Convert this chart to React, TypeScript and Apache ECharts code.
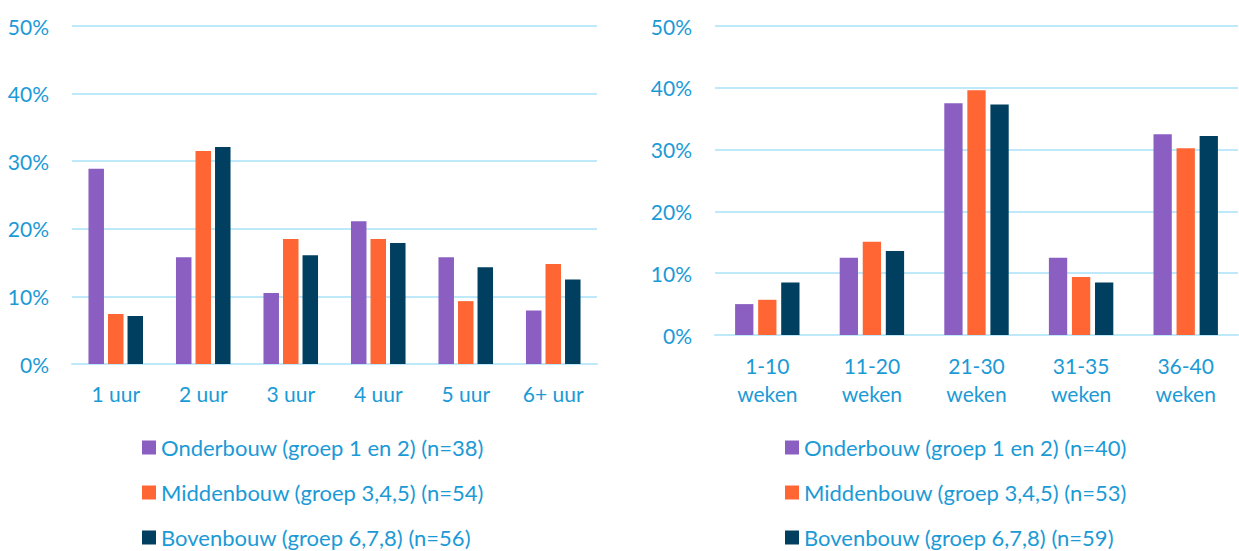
import React, { useEffect, useRef } from "react";
import * as echarts from "echarts";

const hoursCategories = ["1 uur", "2 uur", "3 uur", "4 uur", "5 uur", "6+ uur"];
const weeksCategories = ["1-10\nweken", "11-20\nweken", "21-30\nweken", "31-35\nweken", "36-40\nweken"];

const hoursOnder = [28.9, 15.8, 10.5, 21.1, 15.8, 7.9];
const hoursMidden = [7.4, 31.5, 18.5, 18.5, 9.3, 14.8];
const hoursBoven = [7.1, 32.1, 16.1, 17.9, 14.3, 12.5];

const weeksOnder = [5.0, 12.5, 37.5, 12.5, 32.5];
const weeksMidden = [5.7, 15.1, 39.6, 9.4, 30.2];
const weeksBoven = [8.5, 13.6, 37.3, 8.5, 32.2];

const hoursNames = [
  "Onderbouw (groep 1 en 2) (n=38)",
  "Middenbouw (groep 3,4,5) (n=54)",
  "Bovenbouw (groep 6,7,8) (n=56)",
];
const weeksNames = [
  "Onderbouw (groep 1 en 2) (n=40)",
  "Middenbouw (groep 3,4,5) (n=53)",
  "Bovenbouw (groep 6,7,8) (n=59)",
];

const yTicks = { min: 0, max: 50, interval: 10 };

const COLORS = ["#8B5FC1", "#FF6633", "#003F5F"];
const TEXT = "#1B9AD6";
const GRID = "#BDE9FA";
const FONT = "Lato";

export default function App() {
  const ref = useRef<HTMLDivElement>(null);
  useEffect(() => {
    if (!ref.current) return;
    const chart = echarts.init(ref.current, undefined, { renderer: "svg" });
    const yAxisBase = (gridIndex: number) => ({
      type: "value",
      gridIndex,
      min: yTicks.min,
      max: yTicks.max,
      interval: yTicks.interval,
      axisLine: { show: false },
      axisTick: { show: false },
      axisLabel: {
        formatter: "{value}%",
        color: TEXT,
        fontFamily: FONT,
        fontSize: 21,
        margin: 23,
      },
      splitLine: { lineStyle: { color: GRID, width: 2 } },
    });
    const xAxisBase = (gridIndex: number, data: string[], margin: number) => ({
      type: "category",
      gridIndex,
      data,
      axisLine: { lineStyle: { color: GRID, width: 2 } },
      axisTick: { show: false },
      axisLabel: {
        color: TEXT,
        fontFamily: FONT,
        fontSize: 21,
        margin,
        lineHeight: 28,
        interval: 0,
      },
    });
    const legendBase = (left: number, names: string[]) => ({
      orient: "vertical",
      left,
      top: 431,
      width: 420,
      height: 130,
      data: names,
      icon: "rect",
      itemWidth: 14,
      itemHeight: 14,
      itemGap: 22,
      textStyle: {
        color: TEXT,
        fontFamily: FONT,
        fontSize: 22,
        lineHeight: 23,
      },
    });
    const mk = (name: string, data: number[], idx: number, color: string, barWidth: number) => ({
      type: "bar",
      name,
      data,
      xAxisIndex: idx,
      yAxisIndex: idx,
      barWidth,
      barGap: "26%",
      itemStyle: { color },
    });
    chart.setOption({
      animation: false,
      color: COLORS,
      grid: [
        { left: 72, width: 525, top: 26, height: 338 },
        { left: 715, width: 523, top: 26, height: 309 },
      ],
      xAxis: [xAxisBase(0, hoursCategories, 15), xAxisBase(1, weeksCategories, 16)],
      yAxis: [yAxisBase(0), yAxisBase(1)],
      legend: [legendBase(137, hoursNames), legendBase(780, weeksNames)],
      series: [
        mk(hoursNames[0], hoursOnder, 0, COLORS[0], 15.5),
        mk(hoursNames[1], hoursMidden, 0, COLORS[1], 15.5),
        mk(hoursNames[2], hoursBoven, 0, COLORS[2], 15.5),
        mk(weeksNames[0], weeksOnder, 1, COLORS[0], 18.3),
        mk(weeksNames[1], weeksMidden, 1, COLORS[1], 18.3),
        mk(weeksNames[2], weeksBoven, 1, COLORS[2], 18.3),
      ],
    });
    return () => chart.dispose();
  }, []);
  return (
    <div
      ref={ref}
      style={{ position: "fixed", left: 0, top: 0, width: 1239, height: 551, background: "#fff" }}
    />
  );
}
